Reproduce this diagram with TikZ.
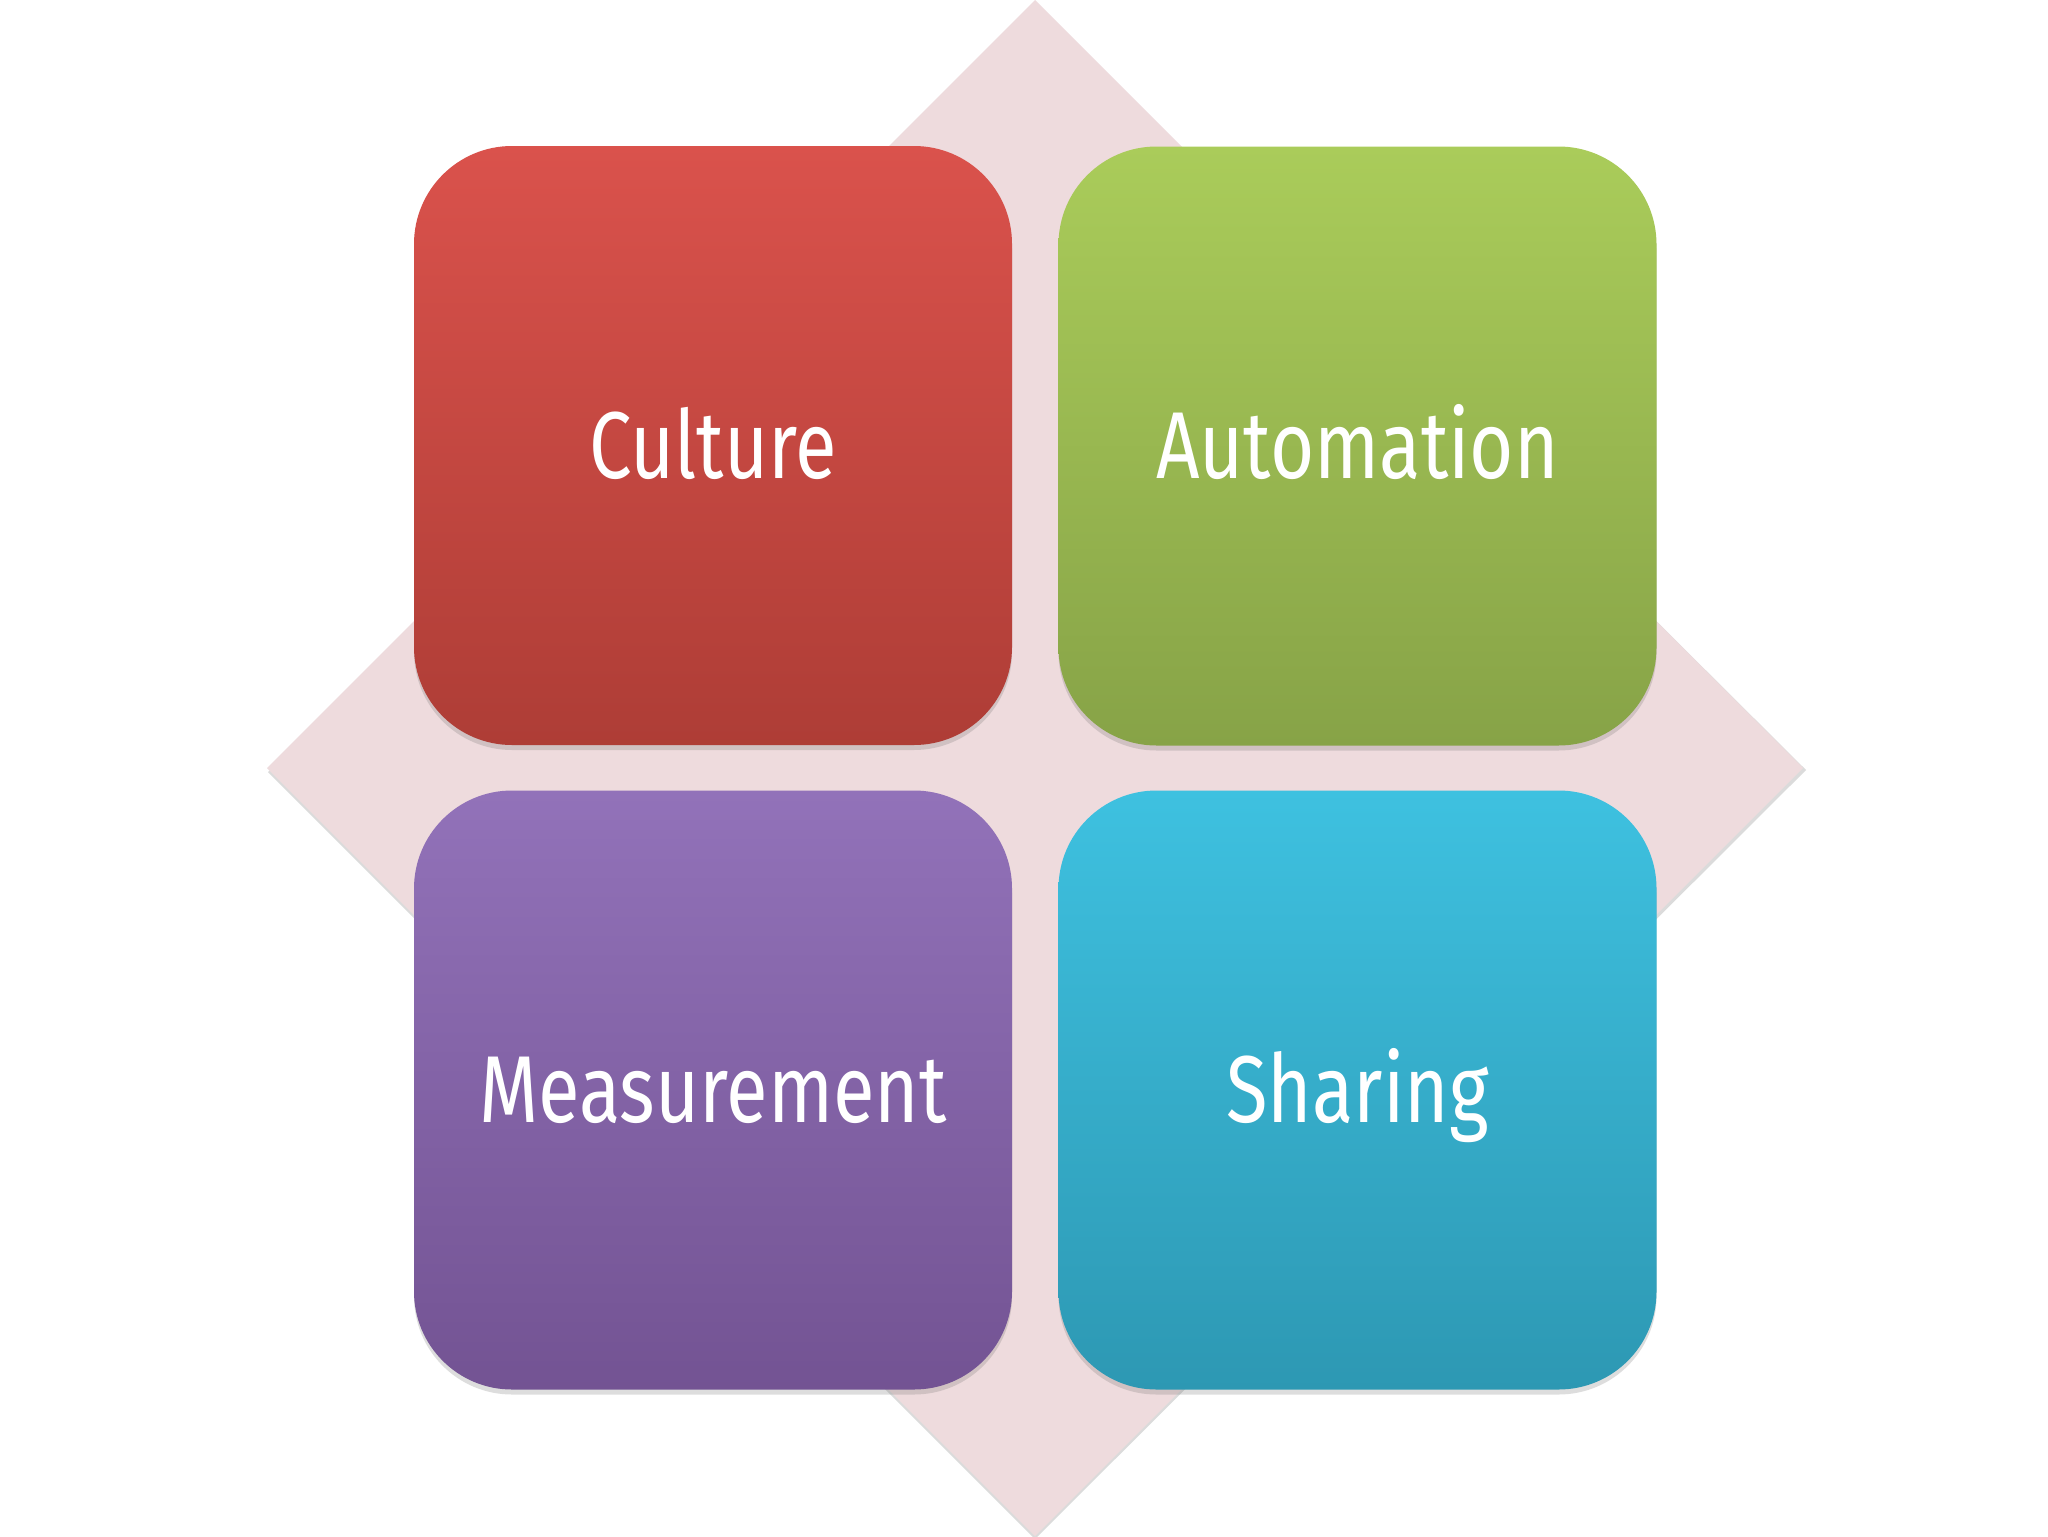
\documentclass[tikz,border=0pt]{standalone}
\usepackage{fontspec}
\setmainfont{Fira Sans}[FakeStretch=0.8]
\usetikzlibrary{shadows}
\definecolor{diam}{HTML}{EEDBDD}
\definecolor{redT}{HTML}{DA524C}
\definecolor{redB}{HTML}{AE3D36}
\definecolor{grnT}{HTML}{AACC5A}
\definecolor{grnB}{HTML}{87A347}
\definecolor{purT}{HTML}{9272B9}
\definecolor{purB}{HTML}{735393}
\definecolor{bluT}{HTML}{3EC1E0}
\definecolor{bluB}{HTML}{2D98B3}
\tikzset{
  tile/.style={rectangle, rounded corners=49pt, minimum width=299pt, minimum height=299.5pt,
    inner sep=0pt, text=white, font=\fontsize{47.5}{50}\selectfont,
    text height=32.5pt, text depth=0pt,
    drop shadow={shadow xshift=0pt, shadow yshift=-2.5pt, opacity=0.22, fill=black!60}},
}
\begin{document}
\begin{tikzpicture}[x=0.5pt,y=-0.5pt]
\useasboundingbox (0,0) rectangle (2048,1536);
\fill[white] (0,0) rectangle (2048,1536);
% diamond shadow
\fill[black!35, opacity=0.4] (1035,3) -- (1806,770) -- (1035,1539) -- (268,772) -- cycle;
\fill[diam] (1035,0) -- (1803,768) -- (1035,1536) -- (267,768) -- cycle;
\node[tile, top color=redT, bottom color=redB] (culture) at (713,445.5) {Culture};
\node[tile, top color=grnT, bottom color=grnB] (automation) at (1357.5,446) {Automation};
\node[tile, top color=purT, bottom color=purB] (measurement) at (713,1090) {Measurement};
\node[tile, top color=bluT, bottom color=bluB] (sharing) at (1357.5,1090) {Sharing};
\end{tikzpicture}
\end{document}
